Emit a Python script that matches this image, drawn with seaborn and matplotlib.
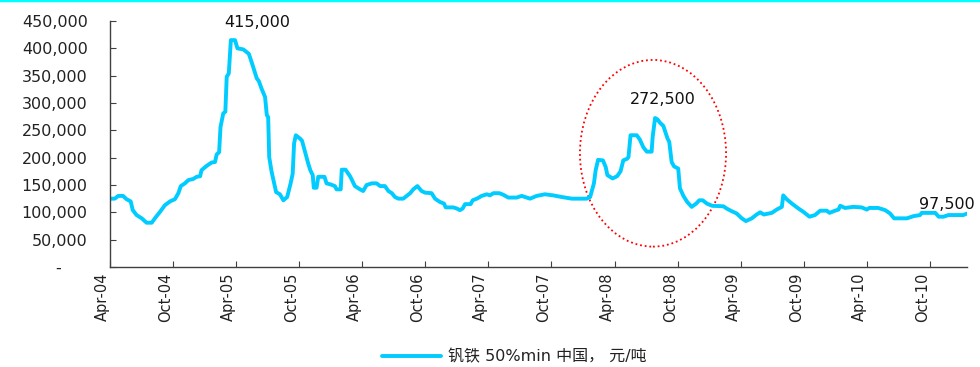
import matplotlib
matplotlib.use("Agg")
import matplotlib.pyplot as plt
import matplotlib.dates as mdates
from matplotlib.patches import Ellipse
from matplotlib.lines import Line2D
from matplotlib.ticker import FuncFormatter, MultipleLocator
import numpy as np
import pandas as pd
import seaborn as sns

# Ferrovanadium 50% min, China spot price (CNY/t)
dates = [
    "2004-04-01", "2004-04-15", "2004-04-25", "2004-05-09", "2004-05-19", "2004-05-31",
    "2004-06-06", "2004-06-17", "2004-07-02", "2004-07-16", "2004-07-31", "2004-08-09",
    "2004-08-24", "2004-09-07", "2004-09-22", "2004-10-06", "2004-10-16", "2004-10-23",
    "2004-11-04", "2004-11-14", "2004-11-28", "2004-12-08", "2004-12-18", "2004-12-22",
    "2005-01-06", "2005-01-20", "2005-01-30", "2005-02-04", "2005-02-11", "2005-02-15",
    "2005-02-23", "2005-03-01", "2005-03-05", "2005-03-11", "2005-03-17", "2005-03-29",
    "2005-04-05", "2005-04-22", "2005-05-02", "2005-05-08", "2005-05-16", "2005-05-31",
    "2005-06-06", "2005-06-14", "2005-06-24", "2005-06-29", "2005-07-03", "2005-07-06",
    "2005-07-13", "2005-07-26", "2005-08-06", "2005-08-16", "2005-08-27", "2005-09-06",
    "2005-09-12", "2005-09-16", "2005-09-21", "2005-10-03", "2005-10-09", "2005-10-22",
    "2005-10-27", "2005-11-02", "2005-11-09", "2005-11-12", "2005-11-20", "2005-11-25",
    "2005-12-13", "2005-12-19", "2005-12-31", "2006-01-12", "2006-01-17", "2006-01-29",
    "2006-02-01", "2006-02-12", "2006-02-25", "2006-03-05", "2006-03-11", "2006-03-26",
    "2006-04-04", "2006-04-14", "2006-04-29", "2006-05-13", "2006-05-23", "2006-06-06",
    "2006-06-16", "2006-06-26", "2006-07-05", "2006-07-15", "2006-07-29", "2006-08-08",
    "2006-08-18", "2006-08-27", "2006-09-08", "2006-09-20", "2006-09-30", "2006-10-19",
    "2006-10-29", "2006-11-12", "2006-11-24", "2006-11-29", "2006-12-21", "2006-12-31",
    "2007-01-09", "2007-01-17", "2007-01-24", "2007-02-09", "2007-02-15", "2007-02-27",
    "2007-03-13", "2007-03-28", "2007-04-06", "2007-04-16", "2007-05-03", "2007-05-15",
    "2007-05-29", "2007-06-22", "2007-07-07", "2007-07-31", "2007-08-19", "2007-09-12",
    "2007-10-06", "2007-10-31", "2007-11-29", "2008-01-11", "2008-01-21", "2008-02-01",
    "2008-02-06", "2008-02-13", "2008-02-27", "2008-03-06", "2008-03-11", "2008-03-26",
    "2008-04-08", "2008-04-18", "2008-04-26", "2008-05-07", "2008-05-11", "2008-05-17",
    "2008-06-04", "2008-06-13", "2008-06-23", "2008-07-03", "2008-07-17", "2008-07-20",
    "2008-07-27", "2008-08-03", "2008-08-10", "2008-08-20", "2008-09-01", "2008-09-06",
    "2008-09-13", "2008-09-20", "2008-10-02", "2008-10-07", "2008-10-17", "2008-10-28",
    "2008-11-10", "2008-11-23", "2008-12-02", "2008-12-12", "2008-12-24", "2009-01-08",
    "2009-02-10", "2009-02-19", "2009-03-06", "2009-03-20", "2009-04-04", "2009-04-16",
    "2009-05-03", "2009-05-17", "2009-05-27", "2009-06-07", "2009-06-30", "2009-07-14",
    "2009-07-29", "2009-08-02", "2009-08-12", "2009-08-27", "2009-09-15", "2009-09-29",
    "2009-10-17", "2009-11-02", "2009-11-17", "2009-12-06", "2009-12-14", "2009-12-30",
    "2010-01-09", "2010-01-14", "2010-01-28", "2010-02-21", "2010-03-17", "2010-04-01",
    "2010-04-08", "2010-05-04", "2010-05-24", "2010-06-07", "2010-06-19", "2010-07-26",
    "2010-08-14", "2010-09-02", "2010-09-07", "2010-10-16", "2010-10-26", "2010-11-09",
    "2010-11-23", "2011-01-05", "2011-01-15",
]
prices = [
    125000, 125000, 130000, 130000, 124000, 120000,
    104000, 95000, 89000, 81000, 81000, 89000,
    101000, 113000, 120000, 124000, 135000, 148000,
    153000, 159000, 161000, 165000, 166000, 177000,
    185000, 191000, 192000, 206000, 210000, 256000,
    281000, 284000, 348000, 354000, 415000, 415000,
    400000, 398000, 393000, 390000, 375000, 345000,
    340000, 326000, 311000, 278000, 274000, 201000,
    174000, 137000, 133000, 122000, 128000, 153000,
    171000, 226000, 241000, 235000, 231000, 201000,
    189000, 177000, 168000, 145000, 145000, 165000,
    165000, 153000, 151000, 148000, 142000, 142000,
    178000, 178000, 166000, 156000, 148000, 142000,
    139000, 150000, 153000, 153000, 148000, 148000,
    139000, 135000, 128000, 125000, 125000, 130000,
    135000, 142000, 148000, 139000, 136000, 135000,
    125000, 119000, 116000, 109000, 109000, 107000,
    104000, 107000, 115000, 115000, 122000, 125000,
    130000, 133000, 131000, 135000, 135000, 132000,
    127000, 127000, 130000, 125000, 130000, 133000,
    131000, 128000, 125000, 125000, 128000, 153000,
    177000, 196000, 195000, 183000, 168000, 162000,
    166000, 175000, 195000, 198000, 201000, 241000,
    241000, 233000, 219000, 211000, 211000, 238000,
    272500, 270000, 264000, 258000, 235000, 229000,
    192000, 184000, 180000, 144000, 130000, 119000,
    110000, 116000, 122000, 122000, 116000, 112000,
    111000, 107000, 102000, 98000, 89000, 84000,
    89000, 96000, 100000, 96000, 99000, 105000,
    110000, 131000, 124000, 116000, 107000, 101000,
    92000, 95000, 103000, 103000, 99000, 103000,
    105000, 112000, 108000, 110000, 109000, 105000,
    108000, 108000, 104000, 98000, 89000, 89000,
    93000, 95000, 99000, 99000, 92000, 92000,
    95000, 95000, 97500,
]

series_label = "钒铁 50%min 中国， 元/吨"
peak_labels = ["415,000", "272,500", "97,500"]
peak_label_dates = ["2005-05-31", "2008-08-19", "2010-11-18"]
peak_label_values = [447500, 306800, 115000]

df = pd.DataFrame({"date": pd.to_datetime(dates), "price": prices})

sns.set_theme(style="white")
plt.rcParams["font.family"] = ["DejaVu Sans", "Noto Sans CJK SC"]

line_color = "#00CCFF"
axis_color = "#404040"
text_color = "#222222"

fig = plt.figure(figsize=(9.8, 3.67), dpi=100)
ax = fig.add_axes([0.1122, 0.2725, 0.8742, 0.6703])

sns.lineplot(data=df, x="date", y="price", ax=ax, color=line_color,
             linewidth=2.8, estimator=None, label=series_label, legend=False)

ax.set_xlim(pd.Timestamp("2004-04-01"), pd.Timestamp("2011-01-15"))
ax.set_ylim(0, 450000)
ax.set_xlabel("")
ax.set_ylabel("")

ax.yaxis.set_major_locator(MultipleLocator(50000))
ax.yaxis.set_major_formatter(FuncFormatter(
    lambda v, _: "-     " if v == 0 else f"{v:,.0f}"))
ax.xaxis.set_major_locator(mdates.MonthLocator(bymonth=[4, 10]))
ax.xaxis.set_major_formatter(mdates.DateFormatter("%b-%y"))

for side in ("top", "right"):
    ax.spines[side].set_visible(False)
for side in ("left", "bottom"):
    ax.spines[side].set_color(axis_color)
    ax.spines[side].set_linewidth(1.0)

ax.tick_params(axis="y", direction="in", length=4, width=0.8, color=axis_color,
               labelsize=11.5, labelcolor=text_color, pad=16, left=True)
ax.tick_params(axis="x", direction="in", length=4, width=0.8, color=axis_color,
               labelsize=10.5, labelcolor=text_color, pad=4, bottom=True)
for lbl in ax.get_xticklabels():
    lbl.set_rotation(90)
    lbl.set_horizontalalignment("right")
    lbl.set_verticalalignment("top")

# Value callouts
for txt, d, v in zip(peak_labels, peak_label_dates, peak_label_values):
    ax.text(mdates.date2num(pd.Timestamp(d)), v, txt, ha="center", va="center",
            fontsize=11.5, color="#111111", clip_on=False)

# Dotted ellipse around the 2008 spike
ell = Ellipse((mdates.date2num(pd.Timestamp("2008-07-21")), 208000),
              width=423, height=341500, fill=False, edgecolor="red",
              linewidth=1.3, linestyle=(0, (1, 1.6)))
ax.add_patch(ell)

# Legend below the axis
handle = Line2D([], [], color=line_color, linewidth=2.8)
fig.legend([handle], [series_label], loc="center", bbox_to_anchor=(0.525, 0.027),
           frameon=False, fontsize=11.5, handlelength=3.7, handletextpad=0.45,
           labelcolor=text_color)

# Thin cyan rule along the top edge
fig.add_artist(Line2D([0, 1], [1, 1], transform=fig.transFigure,
                      color="#00FFFF", linewidth=2.5))

fig.savefig("out.png", dpi=100)
